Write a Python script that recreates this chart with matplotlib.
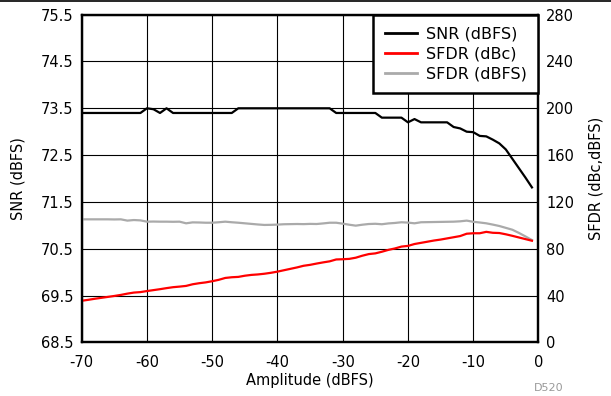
import numpy as np
import matplotlib
matplotlib.use("Agg")
import matplotlib.pyplot as plt
from matplotlib.lines import Line2D

plt.rcParams['font.family'] = ['DejaVu Sans']
plt.rcParams['axes.unicode_minus'] = False

# input amplitude, 1 dB steps
amplitude = list(range(-70, 0))

snr_dbfs = [73.4, 73.4, 73.4, 73.4, 73.4, 73.4, 73.4, 73.4, 73.4, 73.4,
            73.5, 73.48, 73.4, 73.5, 73.4,
            73.4, 73.4, 73.4, 73.4, 73.4, 73.4, 73.4, 73.4, 73.4,
            73.5, 73.5, 73.5, 73.5, 73.5, 73.5, 73.5, 73.5, 73.5, 73.5, 73.5, 73.5, 73.5, 73.5, 73.5,
            73.4, 73.4, 73.4, 73.4, 73.4, 73.4, 73.4,
            73.3, 73.3, 73.3, 73.3,
            73.2, 73.27,
            73.2, 73.2, 73.2, 73.2, 73.2,
            73.1, 73.07, 73.0, 72.99, 72.91, 72.9, 72.83, 72.75, 72.62, 72.42, 72.22, 72.02, 71.81]

sfdr_dbc = [35.5, 36.3, 37.2, 38.0, 38.8, 39.6, 40.5, 41.6, 42.5, 42.9,
            43.8, 44.6, 45.4, 46.3, 47.1, 47.6, 48.2, 49.6, 50.5, 51.2,
            52.2, 53.4, 55.0, 55.6, 55.9, 56.9, 57.6, 58.0, 58.6, 59.4,
            60.4, 61.6, 62.8, 64.0, 65.4, 66.2, 67.3, 68.3, 69.2, 70.8,
            71.0, 71.3, 72.3, 74.0, 75.4, 76.0, 77.4, 79.0, 80.2, 81.8,
            82.4, 84.0, 85.0, 86.0, 87.0, 87.8, 88.8, 89.8, 90.8, 92.8,
            93.2, 93.2, 94.4, 93.6, 93.4, 92.3, 91.0, 89.6, 88.2, 86.8]

sfdr_dbfs = [105.1, 105.1, 105.1, 105.1, 105.1, 105.0, 105.1, 104.0, 104.5, 104.2,
             103.1, 103.2, 103.1, 103.1, 103.0, 103.1, 101.7, 102.5, 102.4, 102.2,
             102.2, 102.6, 103.1, 102.6, 102.2, 101.7, 101.2, 100.7, 100.3, 100.4,
             100.6, 100.9, 101.0, 101.1, 101.0, 101.2, 101.1, 101.6, 102.2, 102.2,
             101.4, 100.5, 99.7, 100.5, 101.1, 101.3, 100.9, 101.6, 102.0, 102.6,
             102.3, 101.7, 102.6, 102.7, 102.8, 102.9, 103.0, 103.1, 103.4, 104.0,
             103.0, 102.4, 101.7, 100.6, 99.4, 97.8, 96.2, 93.5, 90.5, 87.4]

x_ticks = [-70, -60, -50, -40, -30, -20, -10, 0]
snr_ticks = [68.5, 69.5, 70.5, 71.5, 72.5, 73.5, 74.5, 75.5]
sfdr_ticks = [0, 40, 80, 120, 160, 200, 240, 280]

fig = plt.figure(figsize=(6.11, 3.96), dpi=100)
ax1 = fig.add_axes([0.1337, 0.1356, 0.7476, 0.8273])
ax2 = ax1.twinx()

ax1.plot(amplitude, snr_dbfs, color='black', lw=1.6, zorder=3)
ax2.plot(amplitude, sfdr_dbfs, color='#aaaaaa', lw=1.6)
ax2.plot(amplitude, sfdr_dbc, color='#ff0000', lw=1.6)

ax1.set_xlim(-70, 0)
ax1.set_ylim(68.5, 75.5)
ax2.set_ylim(0, 280)
ax1.set_xticks(x_ticks)
ax1.set_yticks(snr_ticks)
ax1.set_yticklabels([f"{v:.1f}" for v in snr_ticks])
ax2.set_yticks(sfdr_ticks)

ax1.grid(True, color='black', lw=0.8)
ax1.set_axisbelow(True)
for ax in (ax1, ax2):
    ax.tick_params(length=0, labelsize=10.5)
    for s in ax.spines.values():
        s.set_linewidth(1.6)
        s.set_color('black')
ax1.tick_params(axis='x', pad=9)
ax1.tick_params(axis='y', pad=6)
ax2.tick_params(axis='y', pad=5.5)

ax1.set_xlabel("Amplitude (dBFS)", fontsize=10.5, labelpad=2)
ax1.set_ylabel("SNR (dBFS)", fontsize=10.5, labelpad=11)
ax2.set_ylabel("SFDR (dBc,dBFS)", fontsize=10.5, labelpad=10)

handles = [Line2D([], [], color='black', lw=2),
           Line2D([], [], color='#ff0000', lw=2),
           Line2D([], [], color='#aaaaaa', lw=2)]
leg = ax2.legend(handles, ["SNR (dBFS)", "SFDR (dBc)", "SFDR (dBFS)"],
                 loc='upper right', bbox_to_anchor=(1.0, 1.0), fontsize=11.5,
                 frameon=True, fancybox=False, borderaxespad=0,
                 handlelength=2.0, handletextpad=0.55, labelspacing=0.3,
                 borderpad=0.75)
leg.get_frame().set_edgecolor('black')
leg.get_frame().set_linewidth(1.8)
leg.get_frame().set_alpha(1)

fig.text(0.874, 0.02, "D520", color='#999999', fontsize=8, va='center')
fig.add_artist(Line2D([0, 1], [0.998, 0.998], color='black', lw=1.2,
                      transform=fig.transFigure))

fig.savefig("out.png", dpi=100)
